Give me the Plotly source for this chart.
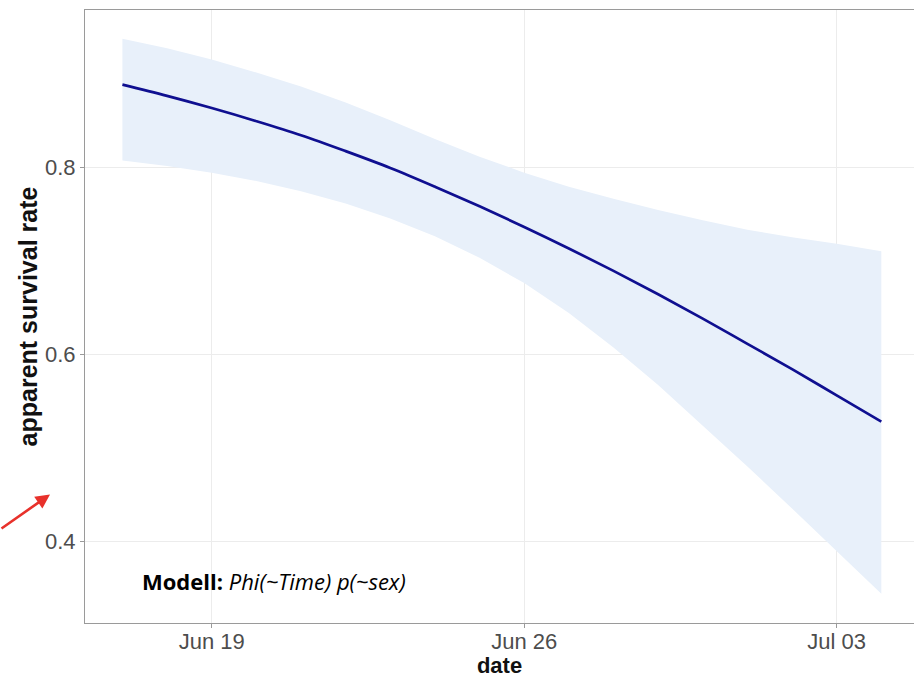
import plotly.graph_objects as go

# ---- data ----
dates = ["2019-06-17", "2019-06-18", "2019-06-19", "2019-06-20", "2019-06-21", "2019-06-22",
         "2019-06-23", "2019-06-24", "2019-06-25", "2019-06-26", "2019-06-27", "2019-06-28",
         "2019-06-29", "2019-06-30", "2019-07-01", "2019-07-02", "2019-07-03", "2019-07-04"]
estimate = [0.888, 0.876, 0.863, 0.849, 0.834, 0.817, 0.799, 0.779, 0.758, 0.736,
            0.713, 0.689, 0.664, 0.638, 0.611, 0.584, 0.556, 0.528]
upper = [0.937, 0.927, 0.915, 0.901, 0.886, 0.869, 0.850, 0.830, 0.811, 0.794,
         0.779, 0.766, 0.754, 0.743, 0.733, 0.725, 0.718, 0.710]
lower = [0.807, 0.801, 0.794, 0.785, 0.774, 0.761, 0.745, 0.726, 0.703, 0.676,
         0.644, 0.607, 0.567, 0.524, 0.480, 0.435, 0.390, 0.344]
x_tickvals = ["2019-06-19", "2019-06-26", "2019-07-03"]
x_ticktext = ["Jun 19", "Jun 26", "Jul 03"]
y_tickvals = [0.4, 0.6, 0.8]
y_ticktext = ["0.4", "0.6", "0.8"]

W, H = 914, 678
L, T, B, R = 85, 10, 55, 0

fig = go.Figure()
fig.add_trace(go.Scatter(x=dates, y=lower, mode="lines", line=dict(width=0),
                         showlegend=False, hoverinfo="skip"))
fig.add_trace(go.Scatter(x=dates, y=upper, mode="lines", line=dict(width=0),
                         fill="tonexty", fillcolor="#e8f0fa",
                         showlegend=False, hoverinfo="skip"))
fig.add_trace(go.Scatter(x=dates, y=estimate, mode="lines", line_shape="spline",
                         line=dict(color="#0f0f90", width=2.7), showlegend=False))

axis_common = dict(showline=True, linecolor="#9a9a9a", linewidth=1.2, mirror=True,
                   showgrid=True, gridcolor="#ececec", gridwidth=1,
                   ticks="outside", ticklen=4, tickcolor="#9a9a9a", tickwidth=1,
                   zeroline=False, automargin=False,
                   tickfont=dict(family="Liberation Sans, Arial, sans-serif", size=22, color="#4d4d4d"))

fig.update_xaxes(type="date", range=["2019-06-16 03:53", "2019-07-04 17:34"],
                 tickmode="array", tickvals=x_tickvals, ticktext=x_ticktext,
                 ticklabelstandoff=-6,
                 title=dict(text="<b>date</b>", standoff=2,
                            font=dict(family="Liberation Sans, Arial, sans-serif", size=22, color="#111111")),
                 **axis_common)
fig.update_yaxes(range=[0.3127, 0.9678],
                 tickmode="array", tickvals=y_tickvals, ticktext=y_ticktext,
                 title=dict(text="<b>apparent survival rate</b>", standoff=0,
                            font=dict(family="Liberation Sans, Arial, sans-serif", size=25, color="#111111")),
                 **axis_common)

fig.add_annotation(xref="paper", yref="paper", x=(140 - L) / (W - L - R), y=(623.5 - 581.7) / (H - T - B),
                   xanchor="left", yanchor="middle", showarrow=False,
                   text="<b>Modell:</b> <i>Phi(~Time) p(~sex)</i>",
                   font=dict(family="Open Sans, sans-serif", size=22, color="#000000"))

# red pointer arrow at the left edge
fig.add_annotation(xref="paper", yref="paper", x=(50 - L) / (W - L - R), y=(623.5 - 495) / (H - T - B),
                   text="", showarrow=True, arrowhead=2, arrowsize=1.1, arrowwidth=2.6,
                   arrowcolor="#e8312b", ax=-62, ay=35)

fig.update_layout(width=W, height=H, margin=dict(l=L, r=R, t=T, b=B),
                  plot_bgcolor="white", paper_bgcolor="white", showlegend=False)

fig.write_html("out.html", config={"displayModeBar": False},
               post_script="document.body.style.margin='0';document.body.style.overflow='hidden';")
